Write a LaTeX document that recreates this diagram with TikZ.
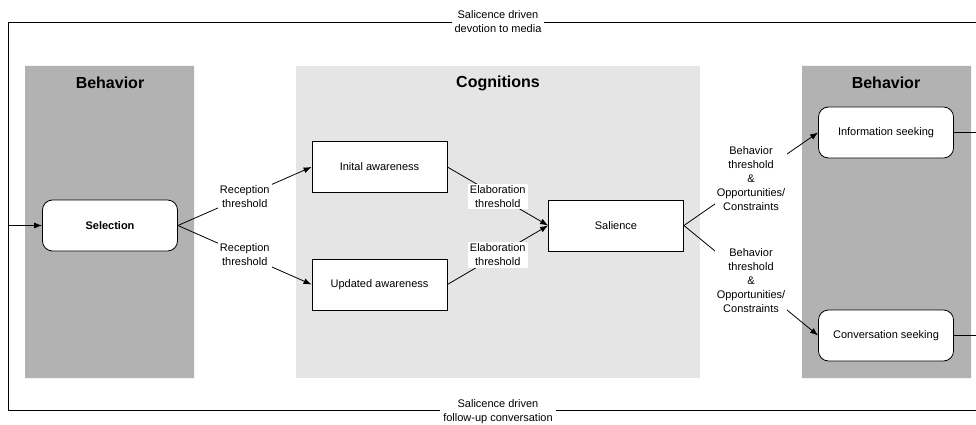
\documentclass[tikz,border=0pt]{standalone}
\usepackage{fontspec}
\setmainfont{Liberation Sans}
\usepackage{tikz}
\usetikzlibrary{arrows.meta}

\definecolor{behaviorgray}{HTML}{B2B2B2}
\definecolor{cognitiongray}{HTML}{E5E5E5}

\begin{document}
\begin{tikzpicture}[x=1pt,y=-1pt,line width=0.8pt,
	box/.style={draw,fill=white,minimum width=135pt,minimum height=51pt,
		font=\fontsize{11}{13}\selectfont},
	roundbox/.style={box,rounded corners=10pt},
	paneltitle/.style={font=\fontsize{16}{18}\selectfont\bfseries},
	gate/.style={fill=white,align=center,inner xsep=2pt,inner ysep=1.5pt,
		font=\fontsize{11}{14}\selectfont},
	loopnote/.style={fill=white,align=center,inner xsep=3pt,inner ysep=0pt,
		font=\fontsize{11}{13.5}\selectfont},
	flow/.style={-{Latex[length=8pt,width=6pt]}}]
	\useasboundingbox (0,0) rectangle (976,425);
	\fill[behaviorgray]
		(25,66) rectangle (194,378)
		(802,66) rectangle (971,378);
	\fill[cognitiongray]
		(296,66) rectangle (700,378);
	\node[paneltitle] (behL) at (110,83) {Behavior};
	\node[paneltitle] (cog) at (498,83) {Cognitions};
	\node[paneltitle] (behR) at (886,83) {Behavior};
	\node[roundbox,font=\fontsize{11}{13}\selectfont\bfseries] (sel) at (110,225.5) {Selection};
	\node[box] (init) at (379.5,167) {Inital awareness};
	\node[box] (upd) at (379.5,284.5) {Updated awareness};
	\node[box] (sal) at (616,225.5) {Salience};
	\node[roundbox] (info) at (886,132.5) {Information seeking};
	\node[roundbox] (conv) at (886,335.5) {Conversation seeking};
	\coordinate (topL) at (8,22.5);
	\coordinate (topR) at (976,22.5);
	\coordinate (botL) at (8,410);
	\coordinate (botR) at (976,410);
	\coordinate (selIn) at (8,225.5);
	\coordinate (infoOut) at (976,132.5);
	\coordinate (convOut) at (976,335.5);
	\draw (topR) -- (topL) -- (botL) -- (botR);
	\draw (info.east) -- (infoOut);
	\draw (conv.east) -- (convOut);
	\draw[flow] (selIn) -- (sel.west);
	\node[loopnote] (devote) at (498,21.5) {Salicence driven\\devotion to media};
	\node[loopnote] (follow) at (498,411.5) {Salicence driven\\follow-up conversation};
	\draw[flow] (sel.east) -- node[gate] (recA) {Reception\\threshold} (init.west);
	\draw[flow] (sel.east) -- node[gate] (recB) {Reception\\threshold} (upd.west);
	\draw[flow] (init.east) -- node[gate] (elabA) {Elaboration\\threshold} (sal.west);
	\draw[flow] (upd.east) -- node[gate] (elabB) {Elaboration\\threshold} (sal.west);
	\draw[flow] (sal.east) -- node[gate] (behA) {Behavior\\threshold\\\&\\Opportunities/\\Constraints} (info.west);
	\draw[flow] (sal.east) -- node[gate] (behB) {Behavior\\threshold\\\&\\Opportunities/\\Constraints} (conv.west);
\end{tikzpicture}
\end{document}
